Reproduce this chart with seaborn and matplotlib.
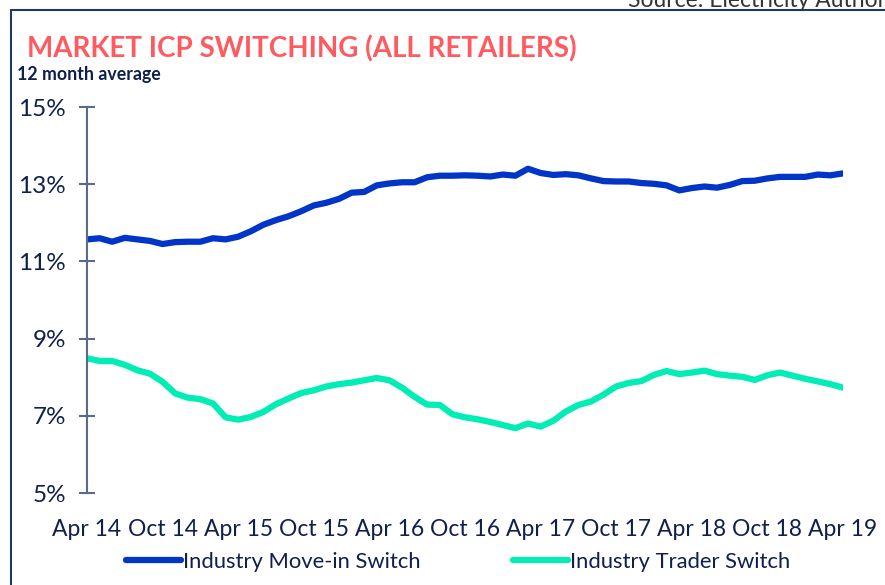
import numpy as np
import pandas as pd
import seaborn as sns
import matplotlib.pyplot as plt
from matplotlib.lines import Line2D

# monthly 12 month averages, Apr 2014 .. Apr 2019 (percent)
months = pd.date_range("2014-04-01", "2019-04-01", freq="MS")
tick_labels = ["Apr 14", "Oct 14", "Apr 15", "Oct 15", "Apr 16", "Oct 16",
               "Apr 17", "Oct 17", "Apr 18", "Oct 18", "Apr 19"]
y_ticks = [5, 7, 9, 11, 13, 15]

move_in = [11.57, 11.60, 11.51, 11.61, 11.57, 11.53, 11.45, 11.50, 11.51, 11.51,
           11.60, 11.57, 11.64, 11.78, 11.95, 12.07, 12.17, 12.30, 12.45, 12.52,
           12.62, 12.78, 12.80, 12.97, 13.02, 13.05, 13.05, 13.18, 13.22, 13.22,
           13.23, 13.22, 13.20, 13.25, 13.22, 13.40, 13.29, 13.24, 13.26, 13.23,
           13.15, 13.08, 13.07, 13.07, 13.03, 13.01, 12.97, 12.84, 12.90, 12.94,
           12.91, 12.98, 13.08, 13.09, 13.15, 13.19, 13.19, 13.19, 13.25, 13.23,
           13.28]
trader = [8.49, 8.42, 8.42, 8.32, 8.18, 8.09, 7.88, 7.58, 7.47, 7.43,
          7.32, 6.96, 6.90, 6.97, 7.10, 7.30, 7.45, 7.59, 7.66, 7.76,
          7.82, 7.86, 7.92, 7.98, 7.92, 7.73, 7.49, 7.29, 7.28, 7.04,
          6.96, 6.91, 6.84, 6.76, 6.68, 6.80, 6.72, 6.87, 7.11, 7.28,
          7.37, 7.55, 7.76, 7.85, 7.90, 8.06, 8.16, 8.08, 8.12, 8.17,
          8.08, 8.04, 8.01, 7.93, 8.05, 8.12, 8.04, 7.96, 7.89, 7.82,
          7.73]

series_names = ["Industry Move-in Switch", "Industry Trader Switch"]
colors = ["#0035C8", "#00EDB5"]
navy = "#0F1F4F"
axis_col = "#5A6A8C"

df = pd.DataFrame({"month": np.arange(len(months)),
                   series_names[0]: move_in,
                   series_names[1]: trader})
long = df.melt(id_vars="month", var_name="series", value_name="value")

sns.set_theme(style="white")
plt.rcParams["font.family"] = ["Lato", "DejaVu Sans"]

fig = plt.figure(figsize=(8.85, 5.85), dpi=100)
ax = fig.add_axes([87 / 885, 1 - 493 / 585, (843 - 87) / 885, (493 - 107) / 585])

sns.lineplot(data=long, x="month", y="value", hue="series", palette=colors,
             linewidth=4.5, ax=ax, legend=True)
handles, labels = ax.get_legend_handles_labels()
ax.get_legend().remove()

ax.set_xlim(0, len(months) - 1)
ax.set_ylim(5, 15)
ax.set_xticks(np.arange(0, len(months), 6))
ax.set_xticklabels(tick_labels)
ax.set_yticks(y_ticks)
ax.set_yticklabels([f"{v}%" for v in y_ticks])
ax.set_xlabel("")
ax.set_ylabel("")

for s in ["top", "right", "bottom"]:
    ax.spines[s].set_visible(False)
ax.spines["left"].set_color(axis_col)
ax.spines["left"].set_linewidth(1.5)
ax.tick_params(axis="y", direction="inout", length=12, width=1.5,
               color=axis_col, labelsize=17.5, labelcolor=navy, pad=9, left=True)
ax.tick_params(axis="x", length=0, labelsize=16.5, labelcolor=navy, pad=19)

fig.legend(handles, labels, loc="center", bbox_to_anchor=(458 / 885, 1 - 562 / 585),
           ncol=2, frameon=False, fontsize=15.8, labelcolor=navy,
           handlelength=2.5, handletextpad=0.1, columnspacing=4.2)

fig.text(27 / 885, 1 - 57 / 585, "MARKET ICP SWITCHING (ALL RETAILERS)",
         color="#FF5A5F", fontsize=20, fontweight="bold", va="baseline")
fig.text(17 / 885, 1 - 80 / 585, "12 month average",
         color=navy, fontsize=12.8, fontweight="bold", va="baseline")
fig.text(628 / 885, 1 - 7 / 585, "Source: Electricity Authority",
         color="#333333", fontsize=16.5, va="baseline")

# panel frame
fig.add_artist(Line2D([11 / 885, 1.0], [1 - 10 / 585, 1 - 10 / 585],
                      color="#1F3864", linewidth=1.5))
fig.add_artist(Line2D([11 / 885, 11 / 885], [0, 1 - 10 / 585],
                      color="#1F3864", linewidth=1.5))

fig.savefig("out.png", dpi=100)
